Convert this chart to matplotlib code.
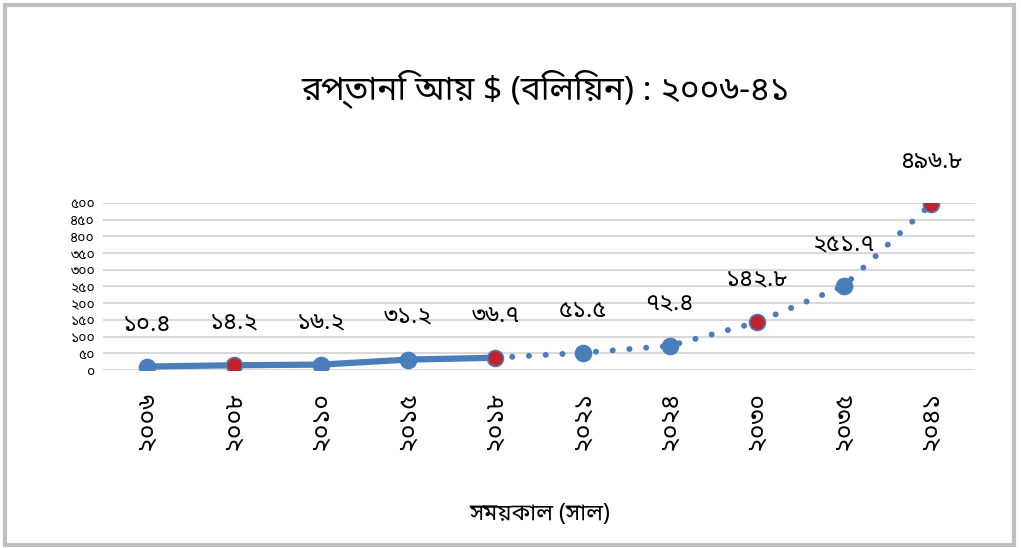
import matplotlib
matplotlib.use('Agg')
import matplotlib.pyplot as plt
from matplotlib.patches import Rectangle

# data (export earnings, billion $)
years = [2006, 2008, 2010, 2015, 2018, 2021, 2024, 2030, 2035, 2041]
earnings = [10.4, 14.2, 16.2, 31.2, 36.7, 51.5, 72.4, 142.8, 251.7, 496.8]
n_actual = 5                      # first 5 are actual, rest projected
red_years = [2008, 2018, 2030, 2041]
yticks = list(range(0, 501, 50))

title = 'রপ্তানি আ\u09df $ (বিলি\u09dfন) : ২০০৬-৪১'
xlabel = 'সম\u09dfকাল (সাল)'

BN = str.maketrans('0123456789', '০১২৩৪৫৬৭৮৯')
def bn(s):
    return str(s).translate(BN)

plt.rcParams['font.family'] = ['Noto Sans Bengali', 'DejaVu Sans']

blue = '#4a7ebb'
red = '#c0232c'

fig = plt.figure(figsize=(10.21, 5.48), dpi=100)
ax = fig.add_axes([0.1013, 0.3248, 0.8532, 0.3048])

x = list(range(len(years)))
# actual part: thick solid line
ax.plot(x[:n_actual], earnings[:n_actual], '-', color=blue, lw=4.5, zorder=3)
# projection: dotted
ax.plot(x[n_actual - 1:], earnings[n_actual - 1:], color=blue, lw=4.3,
        linestyle=(0, (0.01, 2.8)), dash_capstyle='round', zorder=3)

for i, (yr, v) in enumerate(zip(years, earnings)):
    fc = red if yr in red_years else blue
    ax.plot(i, v, 'o', ms=11.5, mfc=fc, mec=blue, mew=1.2, zorder=4)
    ax.annotate(bn(v), (i, v), xytext=(0, 30), textcoords='offset points',
                ha='center', va='center', fontsize=17, color='black')

ax.set_xlim(-0.5, len(years) - 0.5)
ax.set_ylim(0, 500)
ax.set_yticks(yticks)
ax.set_yticklabels([bn(t) for t in yticks], fontsize=10)
ax.set_xticks(x)
ax.set_xticklabels([bn(y) for y in years], rotation=90, fontsize=18)
ax.tick_params(axis='both', length=0)
ax.tick_params(axis='x', pad=15)
ax.tick_params(axis='y', pad=6)
ax.grid(axis='y', color='#d9d9d9', lw=1.5)
ax.set_axisbelow(True)
for s in ax.spines.values():
    s.set_visible(False)

fig.text(0.534, 0.839, title, ha='center', va='center', fontsize=24)
fig.text(0.529, 0.062, xlabel, ha='center', va='center', fontsize=16.5)

fig.patches.append(Rectangle((0.005, 0.006), 0.988, 0.985, transform=fig.transFigure,
                             fill=False, ec='#bfbfbf', lw=3))

fig.savefig('out.png')
